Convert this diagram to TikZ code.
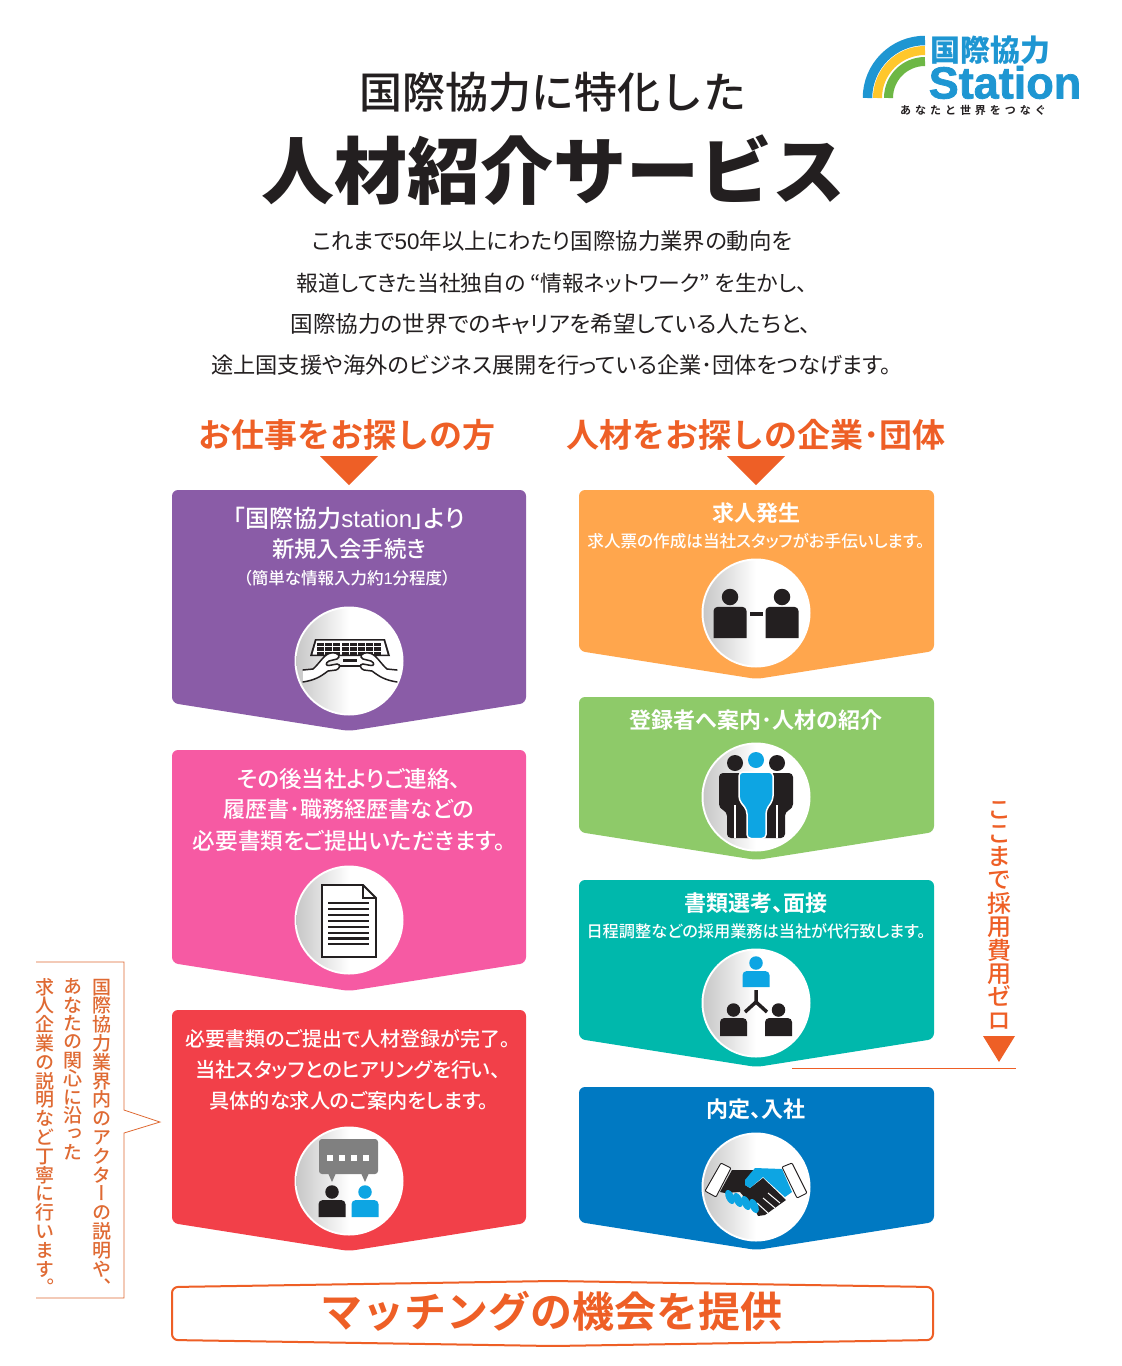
\documentclass[tikz,border=0pt]{standalone}
\usepackage{fontspec}
\setmainfont{Noto Sans CJK JP}[BoldFont={Noto Sans CJK JP Bold}]
\newfontfamily\heavyfont{Noto Sans CJK JP Black}
\newfontfamily\midfont{Noto Sans CJK JP Medium}
\newfontfamily\plainfont{Noto Sans CJK JP}[RawFeature=+palt]
\newfontfamily\boxfont{Noto Sans CJK JP Medium}[RawFeature=+palt]
\newfontfamily\boxboldfont{Noto Sans CJK JP Bold}[RawFeature=+palt]
\newfontfamily\vertfont{Noto Sans CJK JP Medium}[RawFeature=+vert]
\newfontfamily\logofont{Liberation Sans Bold}[FakeBold=1.6]
\newfontfamily\latinfont{Liberation Sans}
\newfontfamily\spacedfont{Noto Sans CJK JP Bold}[LetterSpace=36]

\definecolor{inkblack}{HTML}{231F20}
\definecolor{accent}{HTML}{EE5F26}
\definecolor{calltext}{HTML}{DF6A33}
\definecolor{iconblue}{HTML}{0DA5E3}
\definecolor{logoblue}{HTML}{1E96D2}
\definecolor{logoyellow}{HTML}{FFC72C}
\definecolor{logogreen}{HTML}{6DB745}
\definecolor{purplebox}{HTML}{8A5CA7}
\definecolor{pinkbox}{HTML}{F65AA3}
\definecolor{redbox}{HTML}{F24049}
\definecolor{orangebox}{HTML}{FFA64D}
\definecolor{greenbox}{HTML}{8ECA69}
\definecolor{tealbox}{HTML}{00B8AC}
\definecolor{bluebox}{HTML}{0079C2}

\tikzset{
	txt/.style={font=\plainfont\fontsize{#1}{#1}\selectfont,text height=#1*0.88pt,text depth=#1*0.12pt,inner sep=0pt},
	txtm/.style={font=\boxfont\fontsize{#1}{#1}\selectfont,text=white,text height=#1*0.88pt,text depth=#1*0.12pt,inner sep=0pt},
	txtb/.style={font=\fontsize{#1}{#1}\selectfont\bfseries,text height=#1*0.88pt,text depth=#1*0.12pt,inner sep=0pt},
	txtp/.style={font=\boxboldfont\fontsize{#1}{#1}\selectfont,text=white,text height=#1*0.88pt,text depth=#1*0.12pt,inner sep=0pt},
	head/.style={txtb=33,text=accent},
	thin line/.style={draw=calltext,line width=0.8pt},
}

% upright characters one under the other: pitch, text
\ExplSyntaxOn
\NewDocumentCommand{\stackchars}{m m}{
	\vbox{\offinterlineskip
		\tl_map_inline:nn {#2}{\hbox~to~#1pt{\vrule~height~#1pt~depth~0pt~width~0pt\hss\smash{##1}\hss}}
	}
}
\ExplSyntaxOff

% box with a pointed bottom
\newcommand{\flowbox}[5]{
	\fill[#1,rounded corners=6pt] (#2,#4) -- (#3,#4) -- (#3,#5) -- ({(#2+#3)/2},#5+28) -- (#2,#5) -- cycle;
}
% white disc behind an icon
\newcommand{\disc}[2]{
	\fill[white] (#1,#2) circle (54.5);
	\shade[left color=black!22,right color=white,middle color=white] (#1,#2) circle (52.5);
}
% head and shoulders
\newcommand{\person}[5]{
	\fill[#5] (#1,#2) circle (#3*0.25);
	\fill[#5] (#1-#3*0.5,#2+#4) [rounded corners=4pt] -- (#1-#3*0.5,#2+#3*0.3) -- (#1+#3*0.5,#2+#3*0.3) [sharp corners] -- (#1+#3*0.5,#2+#4) -- cycle;
}

\begin{document}
\begin{tikzpicture}[x=1pt,y=-1pt]
	\useasboundingbox (0,0) rectangle (1122,1366);
	\fill[white] (0,0) rectangle (1122,1366);

	% logo
	\draw[logoblue,line width=9.5pt] (867.5,98) arc (180:270:57.5);
	\draw[logoyellow,line width=9pt] (877.5,98) arc (180:270:47.5);
	\draw[logogreen,line width=9pt] (888.5,98) arc (180:270:36.5);
	\node[txtb=30,text=logoblue,font=\heavyfont\fontsize{30}{30}\selectfont] (logotitle) at (990,50) {国際協力};
	\node[inner sep=0pt,anchor=base,text=logoblue,text height=33pt,text depth=0pt,font=\logofont\fontsize{45}{45}\selectfont] (logoname) at (1005,98.5) {Station};
	\node[txt=11,text=inkblack,font=\spacedfont\fontsize{11}{11}\selectfont] (logoslogan) at (973,110) {あなたと世界をつなぐ};

	% title
	\node[txt=43,text=inkblack,font=\midfont\fontsize{43}{43}\selectfont] (title) at (553,92) {国際協力に特化した};
	\node[txt=73,text=inkblack,font=\heavyfont\fontsize{73}{73}\selectfont] (subtitle) at (553,171) {人材紹介サービス};
	\node[txt=22.4,text=inkblack] (introa) at (552,241) {これまで{\latinfont 50}年以上にわたり国際協力業界の動向を};
	\node[txt=21.8,text=inkblack] (introb) at (552,283) {報道してきた当社独自の “情報ネットワーク” を生かし、};
	\node[txt=22.6,text=inkblack] (introc) at (551,324) {国際協力の世界でのキャリアを希望している人たちと、};
	\node[txt=22.2,text=inkblack] (introd) at (551.5,365) {途上国支援や海外のビジネス展開を行っている企業･団体をつなげます。};

	% columns
	\node[head] (seekers) at (347,435) {お仕事をお探しの方};
	\node[head] (firms) at (756,435) {人材をお探しの企業･団体};
	\fill[accent] (320,456) -- (378,456) -- (349,485) -- cycle;
	\fill[accent] (727,456) -- (785,456) -- (756,485) -- cycle;

	% left column
	\flowbox{purplebox}{172}{526}{490}{703}
	\flowbox{pinkbox}{172}{526}{750}{963}
	\flowbox{redbox}{172}{526}{1010}{1223}
	% right column
	\flowbox{orangebox}{579}{934}{490}{651}
	\flowbox{greenbox}{579}{934}{697}{832}
	\flowbox{tealbox}{579}{934}{880}{1039}
	\flowbox{bluebox}{579}{934}{1087}{1222}

	\node[txtm=24,text=white] (purplea) at (349,518) {「国際協力{\latinfont station}」より};
	\node[txtm=22.4,text=white] (purpleb) at (349,549) {新規入会手続き};
	\node[txtm=16.5,text=white] (purplec) at (347,578) {（簡単な情報入力約{\latinfont 1}分程度）};

	\node[txtm=22.5,text=white] (pinka) at (349,779) {その後当社よりご連絡、};
	\node[txtm=22,text=white] (pinkb) at (349,809) {履歴書･職務経歴書などの};
	\node[txtm=22.6,text=white] (pinkc) at (349,841) {必要書類をご提出いただきます。};

	\node[txtm=20,text=white] (reda) at (348,1039) {必要書類のご提出で人材登録が完了。};
	\node[txtm=20.3,text=white] (redb) at (348,1070) {当社スタッフとのヒアリングを行い、};
	\node[txtm=20.2,text=white] (redc) at (349,1101) {具体的な求人のご案内をします。};

	\node[txtb=22,text=white] (orangea) at (756,513) {求人発生};
	\node[txtm=16.6,text=white] (orangeb) at (756,541) {求人票の作成は当社スタッフがお手伝いします。};
	\node[txtb=22,text=white] (greena) at (756,720) {登録者へ案内･人材の紹介};
	\node[txtp=22,text=white] (teala) at (756,903) {書類選考、面接};
	\node[txtm=16.2,text=white] (tealb) at (756,931) {日程調整などの採用業務は当社が代行致します。};
	\node[txtp=22,text=white] (bluea) at (756,1109) {内定、入社};

	% icon discs
	\disc{349}{661}
	\disc{349}{920}
	\disc{349}{1181}
	\disc{756}{613}
	\disc{756}{797}
	\disc{756}{1003}
	\disc{756}{1187}

	% keyboard
	\fill[inkblack] (315,639) -- (385,639) -- (390,656) -- (310,656) -- cycle;
	\fill[white] (316.5,640.5) -- (383.5,640.5) -- (387.5,654.5) -- (312.5,654.5) -- cycle;
	\foreach \kx in {0,...,7} \foreach \ky in {0,1,2}
		\fill[inkblack] (317+\kx*8.2,642.5+\ky*4.8) rectangle ++(7,3.8);
	\fill[inkblack] (343,659) rectangle (357,662);
	\draw[inkblack,line width=1.2pt] (339,666) -- (361,666);
	\foreach \hs/\hx in {1/0,-1/700}
		\filldraw[shift={(\hx,0)},xscale=\hs,fill=white,draw=inkblack,line width=1.5pt,line cap=round]
			(303,670) -- (313,669) .. controls (320,663) and (324,654) .. (331,653) .. controls (339,652) and (341,657) .. (337,659) -- (329,661) .. controls (325,663) and (326,666) .. (329,665.5) -- (337,664) .. controls (341,664) and (340,669) .. (336,670) -- (328,671) .. controls (320,677) and (315,680) .. (303,682);

	% document
	\fill[white] (322,885) -- (363,885) -- (376,898) -- (376,957) -- (322,957) -- cycle;
	\draw[inkblack,line width=1.8pt] (322,885) -- (363,885) -- (376,898) -- (376,957) -- (322,957) -- cycle;
	\draw[inkblack,line width=1.8pt] (363,885) -- (363,898) -- (376,898);
	\foreach \ly in {903,909,915,921,927,933,938.5,944}
		\draw[inkblack,line width=2.2pt] (328,\ly) -- (369,\ly);

	% chat
	\fill[black!50,rounded corners=3pt] (319,1139) rectangle (378,1174);
	\fill[black!50] (328,1173) -- (336,1173) -- (332,1182) -- cycle;
	\fill[black!50] (361,1173) -- (369,1173) -- (365,1182) -- cycle;
	\foreach \sx in {330,342,354,366}
		\fill[white] (\sx-3,1155) rectangle (\sx+3,1161);
	\person{332}{1192}{27}{25}{inkblack}
	\person{365}{1192}{27}{25}{iconblue}

	% two people
	\person{730}{597}{33}{41}{inkblack}
	\person{782}{597}{33}{41}{inkblack}
	\fill[inkblack] (750,612) rectangle (763,616);

	% team
	\fill[inkblack] (735,763) circle (8);
	\fill[inkblack] (777,763) circle (8);
	\fill[inkblack,rounded corners=4pt] (719,773) -- (793,773) -- (793,808) -- (785,812) -- (785,838) -- (727,838) -- (727,812) -- (719,808) -- cycle;
	\draw[white,line width=1.5pt] (735,805) -- (735,838);
	\draw[white,line width=1.5pt] (777,805) -- (777,838);
	\fill[iconblue] (756,760) circle (8);
	\draw[white,line width=1.5pt,fill=iconblue,rounded corners=4pt] (739,772) -- (773,772) -- (773,800) -- (766,810) -- (766,838.5) -- (747,838.5) -- (747,810) -- (739,800) -- cycle;

	% teams linked
	\person{756}{963}{27}{24}{iconblue}
	\draw[inkblack,line width=3.5pt] (756,990) -- (756,1002) -- (745,1012);
	\draw[inkblack,line width=3.5pt] (756,1002) -- (767,1012);
	\person{733.5}{1010}{27}{26}{inkblack}
	\person{778.5}{1010}{27}{26}{inkblack}

	% handshake
	\fill[inkblack] (732,1170) -- (755,1170) -- (745,1185) -- (750,1188) -- (763,1178) -- (786,1200) -- (765,1215) -- (758,1216) -- (755,1210) -- (740,1192) -- (725,1193) -- (720,1192) -- cycle;
	\fill[iconblue] (755,1168) -- (782,1169) -- (792,1192) -- (785,1197) -- (763,1177) -- (750,1188) -- (745,1185) -- (745,1180) -- cycle;
	\draw[white,line width=1pt] (768,1193) -- (780,1203) (763,1198) -- (775,1208) (757,1203) -- (768,1213);
	\foreach \fx/\fy in {730/1197,738/1200,746/1203,754/1206}
		\fill[iconblue,rotate around={25:(\fx,\fy)}] (\fx,\fy) ellipse (4 and 7.5);
	\filldraw[fill=white,draw=inkblack,line width=0.9pt,rounded corners=1pt] (721,1163) -- (731,1168) -- (716,1197) -- (705,1191) -- cycle;
	\filldraw[fill=white,draw=inkblack,line width=0.9pt,rounded corners=1pt] (782,1167) -- (792,1163) -- (807,1193) -- (797,1198) -- cycle;

	% free of charge marker
	\node[inner sep=0pt,anchor=north,text=accent,font=\vertfont\fontsize{24}{24}\selectfont] (feetext) at (999,795) {\stackchars{23.4}{ここまで採用費用ゼロ}};
	\fill[accent] (983,1036) -- (1015,1036) -- (999,1062) -- cycle;
	\coordinate (feestart) at (792,1068);
	\coordinate (feeend) at (1016,1068);
	\draw[accent,line width=0.9pt] (feestart) -- (feeend);

	% callout
	\draw[thin line] (36,962) -- (124,962) -- (124,1110) -- (160,1122) -- (124,1133) -- (124,1298) -- (36,1298);
	\node[inner sep=0pt,anchor=north,text=calltext,font=\vertfont\fontsize{19}{19}\selectfont] (calla) at (102,975) {\stackchars{18.8}{国際協力業界内のアクターの説明や、}};
	\node[inner sep=0pt,anchor=north,text=calltext,font=\vertfont\fontsize{19}{19}\selectfont] (callb) at (73,975) {\stackchars{18.4}{あなたの関心に沿った}};
	\node[inner sep=0pt,anchor=north,text=calltext,font=\vertfont\fontsize{19}{19}\selectfont] (callc) at (45,975) {\stackchars{18.8}{求人企業の説明など丁寧に行います。}};

	% banner
	\draw[accent,line width=2pt,rounded corners=6pt] (172,1287) -- (553,1281) -- (933,1287) -- (933,1340) -- (553,1346) -- (172,1340) -- cycle;
	\node[txtb=42,text=accent] (banner) at (551,1312) {マッチングの機会を提供};
\end{tikzpicture}
\end{document}
